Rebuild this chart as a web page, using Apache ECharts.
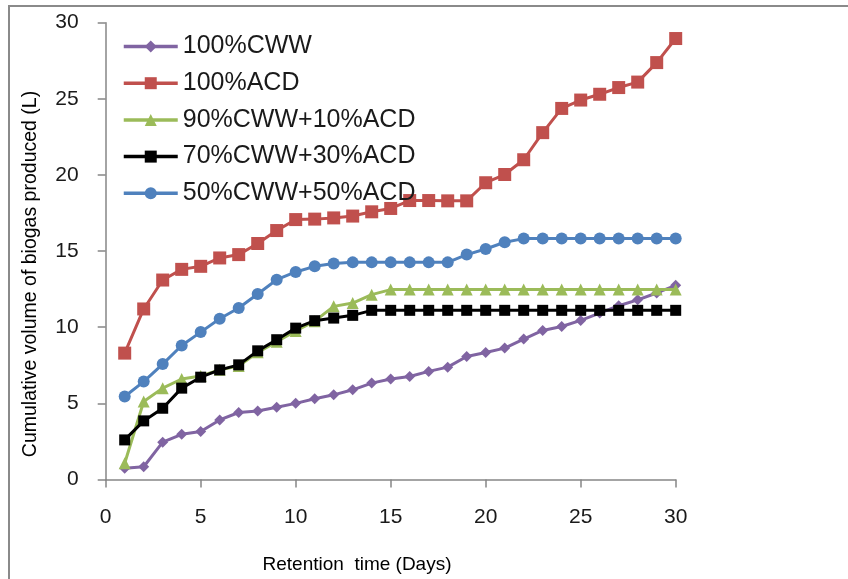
<!DOCTYPE html>
<html>
<head>
<meta charset="utf-8">
<script src="https://cdn.jsdelivr.net/npm/echarts@6/dist/echarts.min.js"></script>
<style>
html,body{margin:0;padding:0;background:#fff;}
#frame{position:absolute;left:8px;top:5px;width:860px;height:600px;border-left:2px solid #8a8a8a;border-top:2px solid #8a8a8a;}
#c{position:absolute;left:0;top:0;width:848px;height:579px;}
</style>
</head>
<body>
<div id="frame"></div>
<div id="c"></div>
<script>
const days = [1,2,3,4,5,6,7,8,9,10,11,12,13,14,15,16,17,18,19,20,21,22,23,24,25,26,27,28,29,30];
const xTicks = [0,5,10,15,20,25,30];
const seriesNames = ['100%CWW','100%ACD','90%CWW+10%ACD','70%CWW+30%ACD','50%CWW+50%ACD'];
const cww100 = [0.74,0.84,2.45,2.97,3.15,3.91,4.4,4.5,4.75,5.0,5.3,5.56,5.89,6.33,6.6,6.76,7.1,7.38,8.08,8.34,8.63,9.22,9.79,10.05,10.45,10.93,11.41,11.8,12.25,12.75];
const acd100 = [8.3,11.2,13.1,13.8,14.0,14.55,14.77,15.5,16.35,17.07,17.1,17.18,17.3,17.58,17.8,18.32,18.32,18.3,18.3,19.49,20.03,21.0,22.78,24.37,24.92,25.3,25.74,26.1,27.38,28.96];
const mix90 = [1.07,5.12,6.0,6.6,6.8,7.2,7.45,8.35,9.05,9.75,10.4,11.37,11.59,12.14,12.47,12.47,12.47,12.47,12.47,12.47,12.47,12.47,12.47,12.47,12.47,12.47,12.47,12.47,12.47,12.47];
const mix70 = [2.6,3.85,4.68,6.0,6.72,7.2,7.53,8.45,9.18,9.94,10.43,10.6,10.78,11.11,11.11,11.11,11.11,11.11,11.11,11.11,11.11,11.11,11.11,11.11,11.11,11.11,11.11,11.11,11.11,11.11];
const mix50 = [5.45,6.43,7.58,8.8,9.68,10.56,11.26,12.18,13.12,13.63,14.0,14.18,14.26,14.26,14.26,14.26,14.26,14.26,14.77,15.14,15.58,15.82,15.82,15.82,15.82,15.82,15.82,15.82,15.82,15.82];
const xTitle = 'Retention  time (Days)';
const yTitle = 'Cumulative volume of biogas produced (L)';

const FONT = 'Liberation Sans';
const pairs = arr => days.map((d,i)=>[d, arr[i]]);
const styles = [
  {color:'#8064A2', symbol:'diamond', size:11},
  {color:'#C0504D', symbol:'rect', size:13},
  {color:'#9BBB59', symbol:'triangle', size:12},
  {color:'#000000', symbol:'rect', size:11},
  {color:'#4F81BD', symbol:'circle', size:12}
];
const values = [cww100, acd100, mix90, mix70, mix50];

const chart = echarts.init(document.getElementById('c'), null, {renderer:'canvas'});
chart.setOption({
  animation:false,
  backgroundColor:'transparent',
  grid:{left:105.7, right:172.3, top:22.7, bottom:99.5, containLabel:false},
  legend:{
    orient:'vertical', left:117, top:29,
    itemWidth:54, itemHeight:15, itemGap:11.7,
    lineStyle:{width:3.5},
    textStyle:{fontFamily:FONT, fontSize:25, color:'#1a1a1a', lineHeight:25},
    data: seriesNames
  },
  graphic:[
    {type:'text', x:357, y:565, style:{text:xTitle, fontFamily:FONT, fontSize:19, fill:'#000', textAlign:'center', textVerticalAlign:'middle'}},
    {type:'text', x:31, y:274, rotation:Math.PI/2, style:{text:yTitle, fontFamily:FONT, fontSize:19.5, fill:'#000', textAlign:'center', textVerticalAlign:'middle'}}
  ],
  xAxis:{
    type:'value', min:0, max:30, interval:5,
    axisLine:{show:true, lineStyle:{color:'#868686', width:1.5}},
    axisTick:{show:true, length:8, lineStyle:{color:'#868686', width:1.5}},
    axisLabel:{fontFamily:FONT, fontSize:21, color:'#1a1a1a', margin:27,
      formatter: v => xTicks.includes(v) ? String(v) : ''},
    splitLine:{show:false}
  },
  yAxis:{
    type:'value', min:0, max:30, interval:5,
    axisLine:{show:true, lineStyle:{color:'#868686', width:1.5}},
    axisTick:{show:true, length:8, lineStyle:{color:'#868686', width:1.5}},
    axisLabel:{fontFamily:FONT, fontSize:21, color:'#1a1a1a', margin:27},
    splitLine:{show:false}
  },
  series: seriesNames.map((n,i)=>({
    name:n, type:'line', data:pairs(values[i]),
    symbol:styles[i].symbol, symbolSize:styles[i].size, showSymbol:true,
    lineStyle:{color:styles[i].color, width:3},
    itemStyle:{color:styles[i].color},
    z: 2+i
  }))
});
</script>
</body>
</html>
